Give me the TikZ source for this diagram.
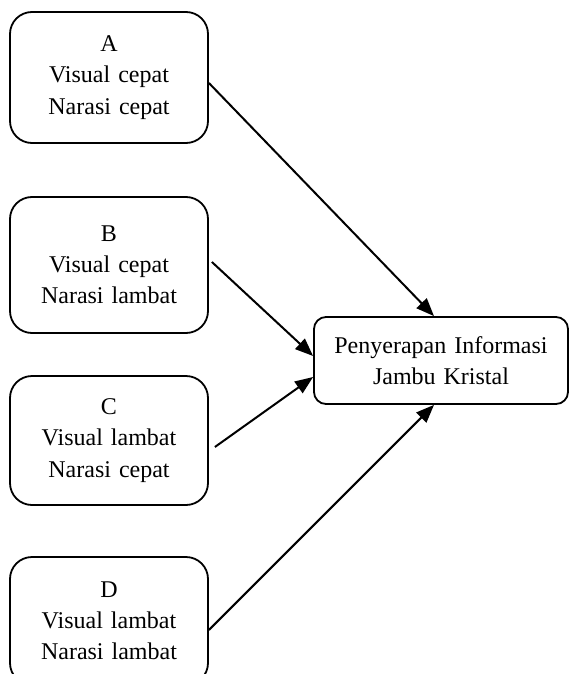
\documentclass[tikz,border=0pt]{standalone}
\usepackage{fontspec}
\setmainfont{Liberation Serif}
\usepackage{tikz}
\usetikzlibrary{shapes,arrows.meta,positioning}

\begin{document}
\begin{tikzpicture}[
    x=0.5pt,
    y=-0.5pt,
    variabel/.style={
        rectangle,
        rounded corners=11pt,
        draw=black,
        line width=0.9pt,
        fill=white,
        text width=95pt,
        align=center,
        font=\fontsize{12}{15.6}\selectfont,
        inner sep=0pt
    },
    hasil/.style={
        rectangle,
        rounded corners=6pt,
        draw=black,
        line width=0.9pt,
        fill=white,
        text width=124pt,
        align=center,
        font=\fontsize{12}{15.6}\selectfont,
        inner sep=0pt
    },
    arrow/.style={
        line width=1pt,
        -{Triangle[length=9pt,width=7pt]}
    }
]

\useasboundingbox (0,0) rectangle (569,674);

% Kelompok perlakuan
\node[variabel, minimum width=99pt, minimum height=65.5pt] (A) at (109,77.5) {
    A\\
    Visual cepat\\
    Narasi cepat
};

\node[variabel, minimum width=99pt, minimum height=68pt] (B) at (109,265) {
    B\\
    Visual cepat\\
    Narasi lambat
};

\node[variabel, minimum width=99pt, minimum height=64.5pt] (C) at (109,440.5) {
    C\\
    Visual lambat\\
    Narasi cepat
};

\node[variabel, minimum width=99pt, minimum height=64pt] (D) at (109,621) {
    D\\
    Visual lambat\\
    Narasi lambat
};

% Variabel terikat
\node[hasil, minimum width=127pt, minimum height=43.5pt] (serap) at (441,360.5) {
    Penyerapan Informasi\\
    Jambu Kristal
};

% Panah pengaruh
\draw[arrow] ([yshift=-2.75pt]A.east) -- ([xshift=-3.5pt]serap.north);
\draw[arrow] ([xshift=1.5pt,yshift=1.5pt]B.east) -- ([yshift=2.25pt]serap.west);
\draw[arrow] ([xshift=3pt,yshift=-3.25pt]C.east) -- ([yshift=-8.25pt]serap.west);
\draw[arrow] ([yshift=-4.5pt]D.east) -- ([xshift=-3.5pt]serap.south);

\end{tikzpicture}
\end{document}
